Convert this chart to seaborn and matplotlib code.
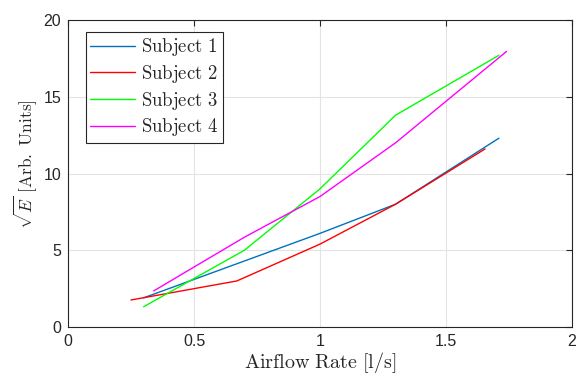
import numpy as np
import pandas as pd
import matplotlib
matplotlib.use("Agg")
import matplotlib.pyplot as plt
import seaborn as sns

subjects = ["Subject 1", "Subject 2", "Subject 3", "Subject 4"]
x_s1 = [0.30, 0.70, 1.00, 1.30, 1.71]
y_s1 = [1.90, 4.30, 6.10, 8.00, 12.30]
x_s2 = [0.25, 0.67, 1.00, 1.30, 1.655]
y_s2 = [1.76, 3.00, 5.40, 8.00, 11.60]
x_s3 = [0.30, 0.70, 1.00, 1.30, 1.71]
y_s3 = [1.32, 5.00, 9.00, 13.80, 17.70]
x_s4 = [0.34, 0.70, 1.00, 1.30, 1.74]
y_s4 = [2.35, 5.85, 8.50, 12.00, 17.95]
colors = ["#0072BD", "#FF0000", "#00FF00", "#FF00FF"]

frames = []
for name, xs, ys in zip(subjects, [x_s1, x_s2, x_s3, x_s4], [y_s1, y_s2, y_s3, y_s4]):
    frames.append(pd.DataFrame({"x": xs, "y": ys, "subject": name}))
df = pd.concat(frames, ignore_index=True)

sns.set_style("white")
plt.rcParams["mathtext.fontset"] = "cm"
plt.rcParams["font.family"] = ["Liberation Sans", "DejaVu Sans"]

fig = plt.figure(figsize=(5.76, 3.81), dpi=100)
ax = fig.add_axes([68/576, 1-327/381, 504/576, 307/381])

sns.lineplot(data=df, x="x", y="y", hue="subject", palette=colors,
             linewidth=1.0, ax=ax, sort=False, estimator=None)

ax.set_xlim(0, 2)
ax.set_ylim(0, 20)
ax.set_xticks([0, 0.5, 1, 1.5, 2])
ax.set_xticklabels(["0", "0.5", "1", "1.5", "2"])
ax.set_yticks([0, 5, 10, 15, 20])
ax.grid(True, color="#e3e3e3", linewidth=0.8)
ax.set_axisbelow(True)
for s in ax.spines.values():
    s.set_color("#262626")
    s.set_linewidth(0.8)
ax.tick_params(direction="in", length=4, width=0.8, top=True, right=True,
               labelsize=11.5, colors="#262626", pad=5)
ax.set_xlabel(r"$\mathrm{Airflow\ Rate\ [l/s]}$", fontsize=14.5, color="#262626", labelpad=1)
ax.set_ylabel(r"$\sqrt{E}\ \mathrm{[Arb.\ Units]}$", fontsize=12.5, color="#262626", labelpad=3)
ax.yaxis.label.set_y(0.53)

handles, labels = ax.get_legend_handles_labels()
leg = ax.legend(handles, [r"$\mathrm{Subject\ %s}$" % l.split()[-1] for l in labels],
                loc="upper left", bbox_to_anchor=(0.035, 0.962), fontsize=13.5,
                frameon=True, fancybox=False, edgecolor="#262626", framealpha=1,
                borderpad=0.25, labelspacing=0.25, handlelength=2.4, handletextpad=0.3,
                borderaxespad=0)
leg.get_frame().set_linewidth(0.8)

fig.savefig("out.png", dpi=100)
